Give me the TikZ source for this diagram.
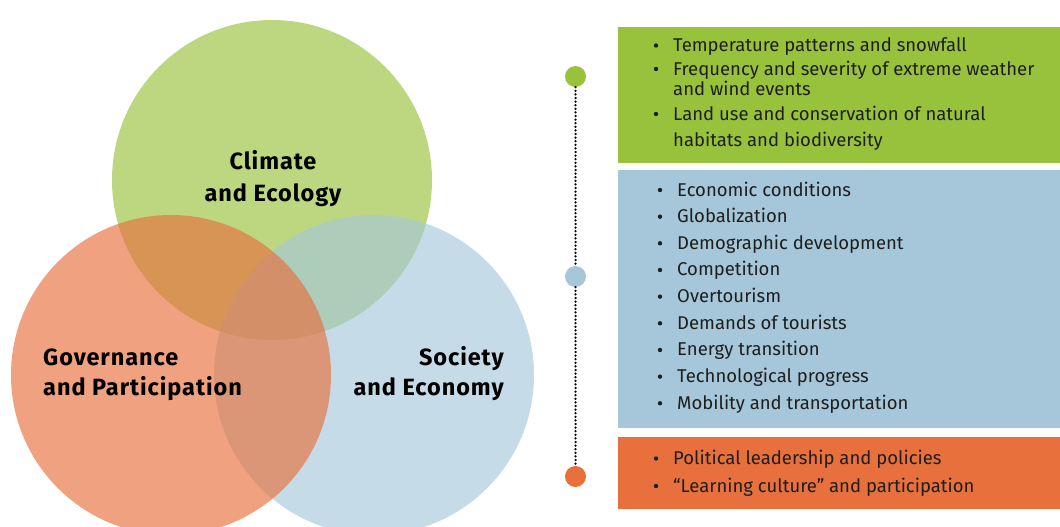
\documentclass[tikz,border=0pt]{standalone}
\usepackage{fontspec}
\setmainfont{Fira Sans}
\newfontfamily\labelfont[LetterSpace=4]{Fira Sans}
\definecolor{cgreen}{RGB}{152,194,60}
\definecolor{cblue}{RGB}{166,199,218}
\definecolor{corange}{RGB}{232,112,60}
\definecolor{ctext}{RGB}{30,30,30}
\begin{document}
\begin{tikzpicture}[x=1pt,y=-1pt,
  venn/.style={circle, minimum size=320pt, inner sep=0pt, fill opacity=0.65},
  biglabel/.style={font=\labelfont\fontsize{23.5}{26}\selectfont\bfseries, inner sep=0pt, text=black},
  itemtext/.style={anchor=base west, font=\fontsize{18.5}{20}\selectfont, inner sep=0pt, text=ctext},
  bul/.style={circle, fill=ctext, minimum size=4.4pt, inner sep=0pt, yshift=6pt},
  dotmark/.style={circle, minimum size=21pt, inner sep=0pt},
  panel/.style={anchor=north west, inner sep=0pt, minimum width=442pt},
  dotline/.style={line width=2.5pt, line cap=round, dash pattern=on 0pt off 3.6pt}
]
\useasboundingbox (0,0) rectangle (1060,527);
\clip (0,0) rectangle (1060,527);
% Venn circles
\node[venn, fill=cgreen] (vclim) at (272,180) {};
\node[venn, fill=cblue] (vsoc) at (374,375) {};
\node[venn, fill=corange] (vgov) at (171,375) {};
% circle labels
\node[biglabel, anchor=base] (lclim1) at (273,169) {Climate};
\node[biglabel, anchor=base] (lclim2) at (273,201) {and Ecology};
\node[biglabel, anchor=base west] (lgov1) at (43,365) {Governance};
\node[biglabel, anchor=base west] (lgov2) at (43,395) {and Participation};
\node[biglabel, anchor=base east] (lsoc1) at (504,365) {Society};
\node[biglabel, anchor=base east] (lsoc2) at (504,395) {and Economy};
% panels
\node[panel, fill=cgreen, minimum height=136pt] (pg) at (618,27) {};
\node[panel, fill=cblue, minimum height=258pt] (pb) at (618,170) {};
\node[panel, fill=corange, minimum height=72pt] (po) at (618,437) {};
% timeline
\node[dotmark, fill=cgreen] (dg) at (575.5,76.5) {};
\node[dotmark, fill=cblue] (db) at (575.5,276.5) {};
\node[dotmark, fill=corange] (do) at (575.5,476.5) {};
\draw[dotline] (dg.south) -- (db.north);
\draw[dotline] (db.south) -- (do.north);
% green items
\node[bul] (bg1) at (656,51.5) {};
\node[itemtext] (tg1) at (673,51.5) {Temperature patterns and snowfall};
\node[bul] (bg2) at (656,75) {};
\node[itemtext] (tg2) at (673,75) {Frequency and severity of extreme weather};
\node[itemtext] (tg3) at (673,95.5) {and wind events};
\node[bul] (bg4) at (656,120) {};
\node[itemtext] (tg4) at (673,120) {Land use and conservation of natural};
\node[itemtext] (tg5) at (673,146.5) {habitats and biodiversity};
% blue items
\foreach \t [count=\i from 0] in {Economic conditions, Globalization, Demographic development, Competition, Overtourism, Demands of tourists, Energy transition, Technological progress, Mobility and transportation}{
  \node[bul] (bb\i) at (660,196+26.66*\i) {};
  \node[itemtext] (tb\i) at (677,196+26.66*\i) {\t};
}
% orange items
\node[bul] (bo1) at (656,464.5) {};
\node[itemtext] (to1) at (673,464.5) {Political leadership and policies};
\node[bul] (bo2) at (656,492) {};
\node[itemtext] (to2) at (673,492) {“Learning culture” and participation};
\end{tikzpicture}
\end{document}
